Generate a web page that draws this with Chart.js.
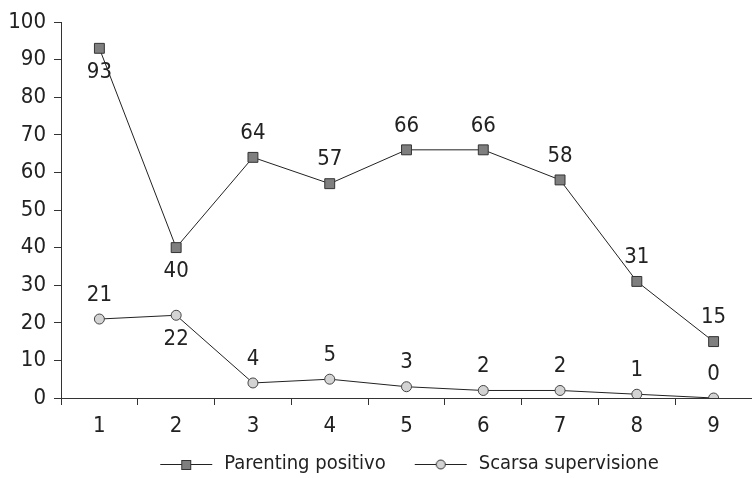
<!DOCTYPE html>
<html>
<head>
<meta charset="utf-8">
<script src="https://cdn.jsdelivr.net/npm/chart.js@4/dist/chart.umd.min.js"></script>
<style>
  html, body { margin: 0; padding: 0; background: #fff; overflow: hidden; }
  #wrap { width: 760px; height: 478px; }
</style>
</head>
<body>
<div id="wrap"><canvas id="c" width="760" height="478"></canvas></div>
<script>
const categories = ['1', '2', '3', '4', '5', '6', '7', '8', '9'];
const parentingPositivo = [93, 40, 64, 57, 66, 66, 58, 31, 15];
const scarsaSupervisione = [21, 22, 4, 5, 3, 2, 2, 1, 0];
const seriesNames = ['Parenting positivo', 'Scarsa supervisione'];
// where each value label sits relative to its point
const parentingLabelSide = ['below', 'below', 'above', 'above', 'above', 'above', 'above', 'above', 'above'];
const scarsaLabelSide = ['above', 'below', 'above', 'above', 'above', 'above', 'above', 'above', 'above'];

const FONT = '"Liberation Sans Narrow", "Arial Narrow", "DejaVu Sans Condensed", sans-serif';
const TEXT = '#222';
const LINE = '#222';

// legend swatch: line segment with the series marker in its middle
function legendSwatch(shape, fill) {
  const cv = document.createElement('canvas');
  cv.width = 83; cv.height = 12;
  const g = cv.getContext('2d');
  g.strokeStyle = LINE; g.lineWidth = 1;
  g.beginPath(); g.moveTo(29, 6.5); g.lineTo(81, 6.5); g.stroke();
  g.fillStyle = fill; g.strokeStyle = '#333';
  if (shape === 'rect') {
    g.fillRect(50, 2, 10, 10); g.strokeRect(50.5, 2.5, 9, 9);
  } else {
    g.beginPath(); g.arc(55, 6.5, 4.5, 0, Math.PI * 2); g.fill(); g.stroke();
  }
  return cv;
}

// nudge the legend row so it sits under the plot, a little right of the canvas centre
const legendNudge = {
  id: 'legendNudge',
  afterLayout(chart) {
    const l = chart.legend;
    if (!l) return;
    l.left += 15; l.right += 15;
    l.top += 6; l.bottom += 6;
  }
};

const valueLabels = {
  id: 'valueLabels',
  afterDatasetsDraw(chart) {
    const ctx = chart.ctx;
    const sides = [parentingLabelSide, scarsaLabelSide];
    ctx.save();
    ctx.font = '22px ' + FONT;
    ctx.fillStyle = TEXT;
    ctx.textAlign = 'center';
    ctx.textBaseline = 'middle';
    chart.data.datasets.forEach((ds, i) => {
      chart.getDatasetMeta(i).data.forEach((pt, j) => {
        const dy = sides[i][j] === 'above' ? -24 : 24;
        ctx.fillText(String(ds.data[j]), pt.x, pt.y + dy);
      });
    });
    ctx.restore();
  }
};

new Chart(document.getElementById('c'), {
  type: 'line',
  data: {
    labels: categories,
    datasets: [
      {
        label: seriesNames[0],
        data: parentingPositivo,
        borderColor: LINE,
        borderWidth: 1,
        pointStyle: 'rect',
        pointRadius: 7,
        pointBackgroundColor: '#7f7f7f',
        pointBorderColor: '#333',
        pointBorderWidth: 1,
        tension: 0
      },
      {
        label: seriesNames[1],
        data: scarsaSupervisione,
        borderColor: LINE,
        borderWidth: 1,
        pointStyle: 'circle',
        pointRadius: 5,
        pointBackgroundColor: '#d3d3d3',
        pointBorderColor: '#444',
        pointBorderWidth: 1,
        tension: 0
      }
    ]
  },
  options: {
    responsive: false,
    animation: false,
    events: [],
    layout: { padding: { top: 22, right: 0, left: 0, bottom: 0 } },
    scales: {
      x: {
        type: 'category',
        offset: true,
        grid: { display: true, offset: true, drawOnChartArea: false, drawTicks: true, tickLength: 7, color: '#333' },
        border: { display: true, color: '#333', width: 1 },
        ticks: { color: TEXT, font: { family: FONT, size: 22 }, padding: 8, maxRotation: 0 },
        afterFit(s) { s.height = 50; }
      },
      y: {
        min: 0, max: 100,
        ticks: { stepSize: 10, color: TEXT, font: { family: FONT, size: 22 }, padding: 8 },
        grid: { display: true, drawOnChartArea: false, drawTicks: true, tickLength: 7, color: '#333' },
        border: { display: true, color: '#333', width: 1 },
        afterFit(s) { s.width = 61; }
      }
    },
    plugins: {
      tooltip: { enabled: false },
      legend: {
        position: 'bottom',
        labels: {
          color: TEXT,
          font: { family: FONT, size: 20 },
          usePointStyle: true,
          pointStyleWidth: 83,
          padding: 0,
          generateLabels(chart) {
            return [
              { text: seriesNames[0], pointStyle: legendSwatch('rect', '#7f7f7f'), fontColor: TEXT, lineWidth: 0, datasetIndex: 0 },
              { text: seriesNames[1], pointStyle: legendSwatch('circle', '#d3d3d3'), fontColor: TEXT, lineWidth: 0, datasetIndex: 1 }
            ];
          }
        }
      }
    }
  },
  plugins: [legendNudge, valueLabels]
});
</script>
</body>
</html>
